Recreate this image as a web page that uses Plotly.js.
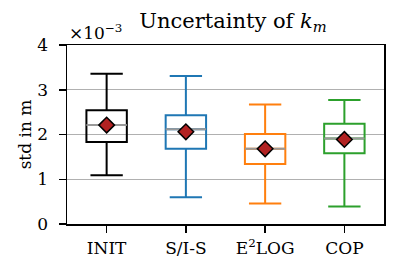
<!DOCTYPE html>
<html><head><meta charset="utf-8">
<script src="https://cdn.plot.ly/plotly-3.0.1.min.js"></script>
<style>html,body{margin:0;padding:0;background:#fff}</style>
</head><body><div id="chart" style="width:399px;height:275px"></div>
<script>
// values in units of 1e-3 m
const categories = ["INIT", "S/I-S", "E<sup>2</sup>LOG", "COP"];
const colors = ["#000000", "#1f77b4", "#ff7f0e", "#2ca02c"];
const lowerWhisker = [1.09, 0.60, 0.46, 0.39];
const q1 = [1.83, 1.68, 1.34, 1.58];
const median = [2.21, 2.12, 1.68, 1.91];
const q3 = [2.54, 2.43, 2.01, 2.24];
const upperWhisker = [3.36, 3.31, 2.67, 2.77];
const mean = [2.21, 2.06, 1.68, 1.89];
const yTicks = [0, 1, 2, 3, 4];

const boxW = 0.51;
const pos = categories.map((c, i) => i);
const traces = [];
categories.forEach((c, i) => {
  traces.push({
    type: "box", x: [i], q1: [q1[i]], median: [median[i]], q3: [q3[i]],
    lowerfence: [lowerWhisker[i]], upperfence: [upperWhisker[i]],
    width: boxW, whiskerwidth: 0.8, fillcolor: "rgba(255,255,255,0)",
    line: {color: colors[i], width: 2}, showlegend: false, hoverinfo: "skip"
  });
  traces.push({
    type: "scatter", mode: "lines", x: [i - boxW / 2, i + boxW / 2], y: [median[i], median[i]],
    line: {color: "#999999", width: 2}, showlegend: false, hoverinfo: "skip"
  });
});
traces.push({
  type: "scatter", mode: "markers", x: pos, y: mean,
  marker: {symbol: "diamond", size: 12, color: "#b22222", line: {color: "#000", width: 1.5}},
  showlegend: false
});

const fam = "'DejaVu Serif', serif";
const f = (s) => ({family: fam, size: s, color: "#000"});
const layout = {
  width: 399, height: 275,
  margin: {l: 67, r: 15, t: 45, b: 51},
  paper_bgcolor: "#fff", plot_bgcolor: "#fff",
  font: f(17),
  title: {text: "Uncertainty of <i>k<sub>m</sub></i>", font: f(21),
          x: 0.584, xanchor: "center", y: 0.952, yanchor: "top"},
  xaxis: {range: [-0.5, 3.5], tickvals: pos, ticktext: categories, showgrid: false, zeroline: false,
          showline: true, mirror: true, linecolor: "#000", linewidth: 1.5,
          ticks: "outside", ticklen: 7, tickwidth: 1.5, tickcolor: "#000",
          ticklabelstandoff: 1, tickfont: f(17)},
  yaxis: {range: [0, 4], tickvals: yTicks, ticktext: yTicks.map(String), showgrid: true,
          gridcolor: "#b0b0b0", gridwidth: 1.2, zeroline: false,
          showline: true, mirror: true, linecolor: "#000", linewidth: 1.5,
          ticks: "outside", ticklen: 7, tickwidth: 1.5, tickcolor: "#000",
          ticklabelstandoff: 7, tickfont: f(17),
          title: {text: "std in m", font: f(17), standoff: 1}},
  annotations: [{xref: "paper", yref: "paper", x: 0, y: 1, xanchor: "left", yanchor: "bottom",
                 yshift: 0, showarrow: false, text: "×10<sup>−3</sup>", font: f(17)}]
};
Plotly.newPlot("chart", traces, layout, {displayModeBar: false, staticPlot: true});
</script></body></html>
